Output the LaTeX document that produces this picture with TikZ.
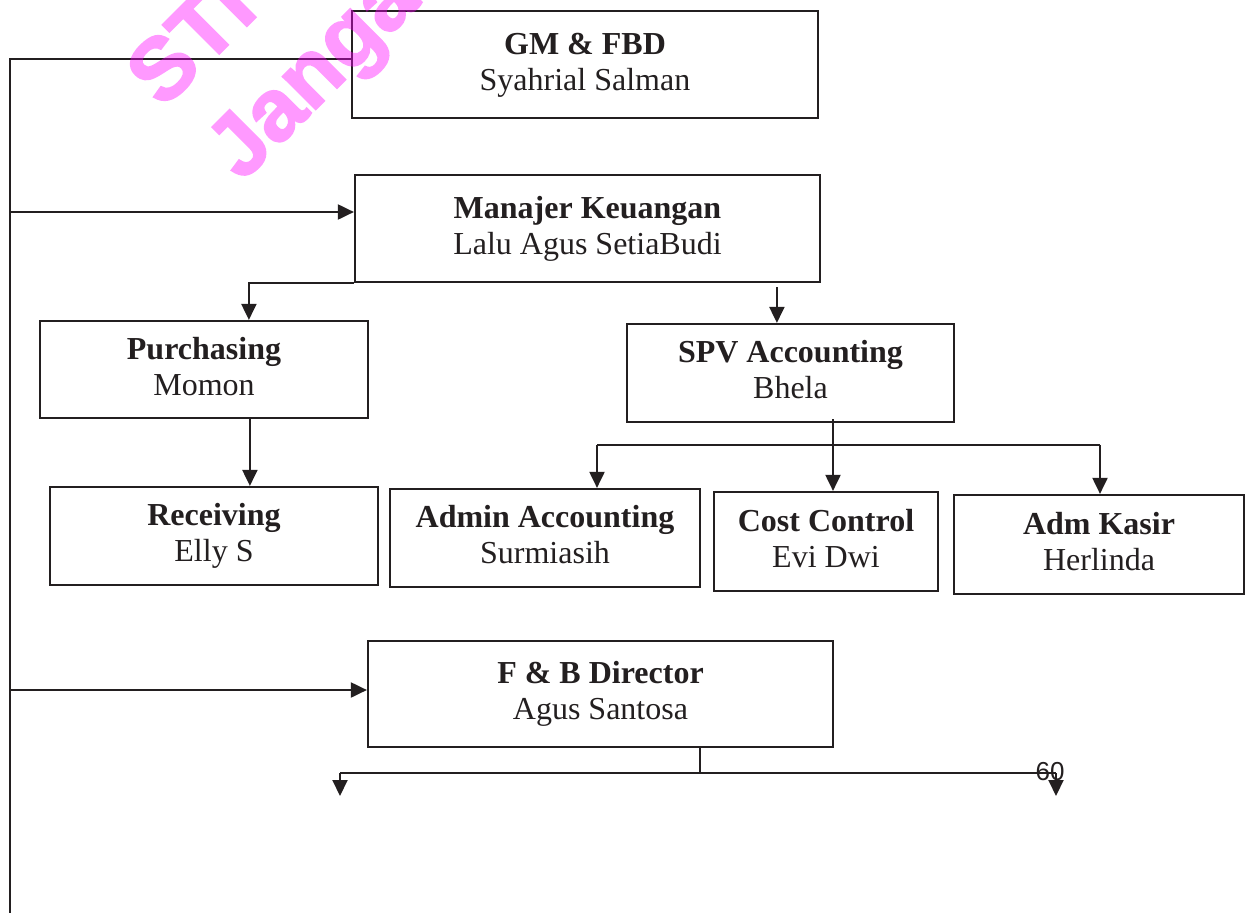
\documentclass[tikz,border=0pt]{standalone}
\usepackage{fontspec}
\setmainfont{Liberation Serif}
\newfontfamily\numfont{Liberation Sans}
\newfontfamily\markfont{Liberation Sans Bold}[FakeBold=2]
\usetikzlibrary{arrows.meta,calc}
\definecolor{ink}{RGB}{35,31,32}
\definecolor{stamp}{RGB}{255,0,255}
\tikzset{
  unit/.style={draw=ink, line width=2.2pt, inner sep=0pt, align=center,
    text=ink, font=\fontsize{32}{36}\selectfont,
    text height=58pt, text depth=7pt},
  link/.style={draw=ink, line width=2pt},
  arr/.style={link, -{Triangle[length=16pt,width=15pt]}},
  stamptext/.style={rotate=45, anchor=base west, text=stamp,
    inner sep=0pt, font=\markfont\fontsize{88}{88}\selectfont}
}
\begin{document}
\begin{tikzpicture}[x=1pt,y=-1pt]
\useasboundingbox (0,0) rectangle (1248,913);
\fill[white] (0,0) rectangle (1248,913);

% organisation units
\node[unit, minimum width=466pt, minimum height=107pt] (gm)  at (585,64.5)  {\textbf{GM \& FBD}\\Syahrial Salman};
\node[unit, minimum width=465pt, minimum height=107pt] (mk)  at (587.5,228.5) {\textbf{Manajer Keuangan}\\Lalu Agus SetiaBudi};
\node[unit, minimum width=328pt, minimum height=97pt]  (pur) at (204,369.5)  {\textbf{Purchasing}\\Momon};
\node[unit, minimum width=327pt, minimum height=98pt]  (spv) at (790.5,373)  {\textbf{SPV Accounting}\\Bhela};
\node[unit, minimum width=328pt, minimum height=98pt]  (rcv) at (214,536)    {\textbf{Receiving}\\Elly S};
\node[unit, minimum width=310pt, minimum height=98pt]  (adm) at (545,538)    {\textbf{Admin Accounting}\\Surmiasih};
\node[unit, minimum width=224pt, minimum height=99pt]  (cc)  at (826,541.5)  {\textbf{Cost Control}\\Evi Dwi};
\node[unit, minimum width=290pt, minimum height=99pt]  (kas) at (1099,544.5) {\textbf{Adm Kasir}\\Herlinda};
\node[unit, minimum width=465pt, minimum height=106pt] (fb)  at (600.5,694)  {\textbf{F \& B Director}\\Agus Santosa};

% left trunk line
\coordinate (trTop) at (10,59);
\coordinate (trBot) at (10,913);
\coordinate (trMk) at (10,212);
\coordinate (trFb) at (10,690);
\draw[link] (trBot) -- (trTop) -- (trTop -| gm.west);
\draw[arr] (trMk) -- (trMk -| mk.west);
\draw[arr] (trFb) -- (trFb -| fb.west);

% finance manager to purchasing and accounting
\draw[arr] (mk.south west) -- ($(mk.south west)+(-105,0)$) -- ($(pur.north west)+(210,0)$);
\draw[arr] ($(mk.south west)+(423,4)$) -- ($(spv.north west)+(151,0)$);

% purchasing to receiving
\draw[arr] ($(pur.south west)+(211,0)$) -- ($(rcv.north west)+(201,0)$);

% accounting supervisor to its three units
\draw[arr] ($(spv.south)+(42.5,-4)$) -- ($(cc.north)+(7,0)$);
\coordinate (busL) at ($(adm.north)+(52,-43)$);
\coordinate (busR) at ($(kas.north)+(1,-49)$);
\draw[link] (busL) -- (busR);
\draw[arr] (busL) -- (busL |- adm.north);
\draw[arr] (busR) -- (busR |- kas.north);

% F & B director branches
\coordinate (fbJ) at ($(fb.south)+(99.5,26)$);
\coordinate (fbL) at (340,773);
\coordinate (fbR) at (1056,773);
\coordinate (fbLe) at (340,796);
\coordinate (fbRe) at (1056,796);
\draw[link] (fb.south -| fbJ) -- (fbJ);
\draw[link] (fbL) -- (fbR);
\draw[arr] (fbL) -- (fbLe);
\draw[arr] (fbR) -- (fbRe);

% page number
\node[text=ink, font=\numfont\fontsize{26}{26}\selectfont, inner sep=0pt] (pg) at (1050,772) {60};

% stamp, laid over the chart as one translucent layer
\begin{scope}[transparency group, opacity=0.4]
\clip (0,0) rectangle (1248,913);
\node[stamptext] (st1) at (163,110) {STI};
\node[stamptext] (st2) at (242,183) {Janga};
\end{scope}
\end{tikzpicture}
\end{document}
